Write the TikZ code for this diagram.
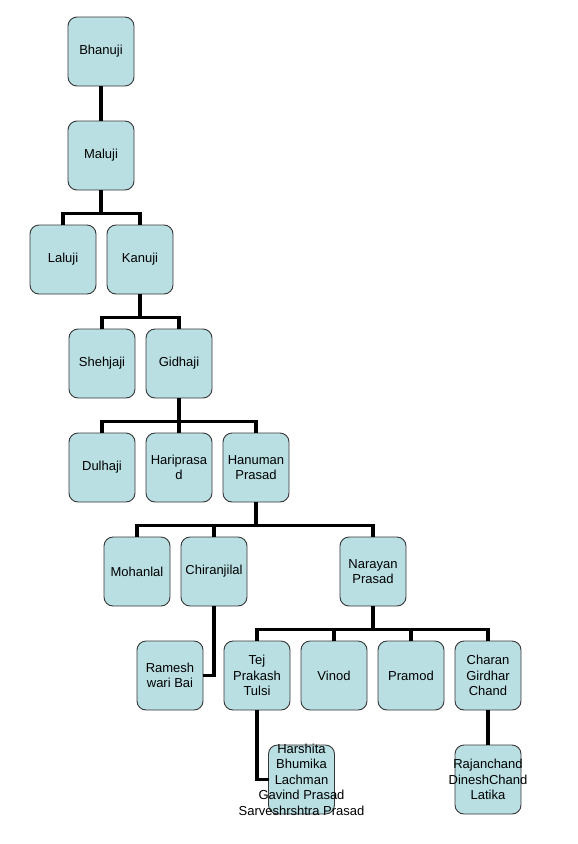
\documentclass[tikz,border=0pt]{standalone}
\usepackage{fontspec}
\setmainfont{Liberation Sans}
\usetikzlibrary{positioning}
\definecolor{boxfill}{RGB}{185,223,227}
\definecolor{boxline}{RGB}{55,55,55}

\begin{document}
\begin{tikzpicture}[
  node distance=35pt and 11pt,
  person/.style={draw=boxline, line width=0.9pt, outer sep=0pt, fill=boxfill, rounded corners=9pt, align=center, minimum width=66pt, minimum height=69pt, inner sep=1pt, font=\fontsize{13}{15.5}\selectfont},
  names/.style={align=center, inner sep=0pt, font=\fontsize{13}{15.5}\selectfont},
  link/.style={line width=3.2pt}
]
  \useasboundingbox (0,0) rectangle (578pt,-844pt);

  \node[person] (bhan) at (101pt,-51.5pt) {Bhanuji};
  \node[person, below=of bhan] (malu) {Maluji};
  \node[person, below=of malu, xshift=39pt] (kanu) {Kanuji};
  \node[person, left=of kanu] (lalu) {Laluji};
  \node[person, below=of kanu, xshift=39pt] (gidh) {Gidhaji};
  \node[person, left=of gidh] (sheh) {Shehjaji};
  \node[person, below=of gidh] (hari) {Hariprasa\\d};
  \node[person, left=of hari] (dulh) {Dulhaji};
  \node[person, right=of hari] (hanu) {Hanuman\\Prasad};
  \node[person, below=of hanu, xshift=-42pt] (chir) {Chiranjilal};
  \node[person, left=of chir] (moha) {Mohanlal};
  \node[person, below=of hanu, xshift=117pt] (nara) {Narayan\\Prasad};
  \node[person, below=of nara, xshift=-116pt] (tej) {Tej\\Prakash\\Tulsi};
  \node[person, right=of tej] (vino) {Vinod};
  \node[person, right=of vino] (pram) {Pramod};
  \node[person, right=of pram] (char) {Charan\\Girdhar\\Chand};
  \node[person, left=21pt of tej] (rame) {Ramesh\\wari Bai};
  \node[person, below=of tej, xshift=44.5pt] (hars) {};
  \node[names] at (hars) {Harshita\\Bhumika\\Lachman\\Gavind Prasad\\Sarveshrshtra Prasad};
  \node[person, below=of char] (raja) {};
  \node[names] at (raja) {Rajanchand\\DineshChand\\Latika};

  % family lines
  \draw[link] (bhan) -- (malu);
  \draw[link] (malu.south) -- ++(0,-23.5pt) -| (lalu.north);
  \draw[link] (malu.south) -- ++(0,-23.5pt) -| (kanu.north);
  \draw[link] (kanu.south) -- ++(0,-23.5pt) -| (sheh.north);
  \draw[link] (kanu.south) -- ++(0,-23.5pt) -| (gidh.north);
  \draw[link] (gidh.south) -- ++(0,-23.5pt) -| (dulh.north);
  \draw[link] (gidh.south) -- ++(0,-23.5pt) -| (hari.north);
  \draw[link] (gidh.south) -- ++(0,-23.5pt) -| (hanu.north);
  \draw[link] (hanu.south) -- ++(0,-23.5pt) -| (moha.north);
  \draw[link] (hanu.south) -- ++(0,-23.5pt) -| (chir.north);
  \draw[link] (hanu.south) -- ++(0,-23.5pt) -| (nara.north);
  \draw[link] (chir.south) |- (rame.east);
  \draw[link] (nara.south) -- ++(0,-23.5pt) -| (tej.north);
  \draw[link] (nara.south) -- ++(0,-23.5pt) -| (vino.north);
  \draw[link] (nara.south) -- ++(0,-23.5pt) -| (pram.north);
  \draw[link] (nara.south) -- ++(0,-23.5pt) -| (char.north);
  \draw[link] (tej.south) |- (hars.west);
  \draw[link] (char) -- (raja);
\end{tikzpicture}
\end{document}
